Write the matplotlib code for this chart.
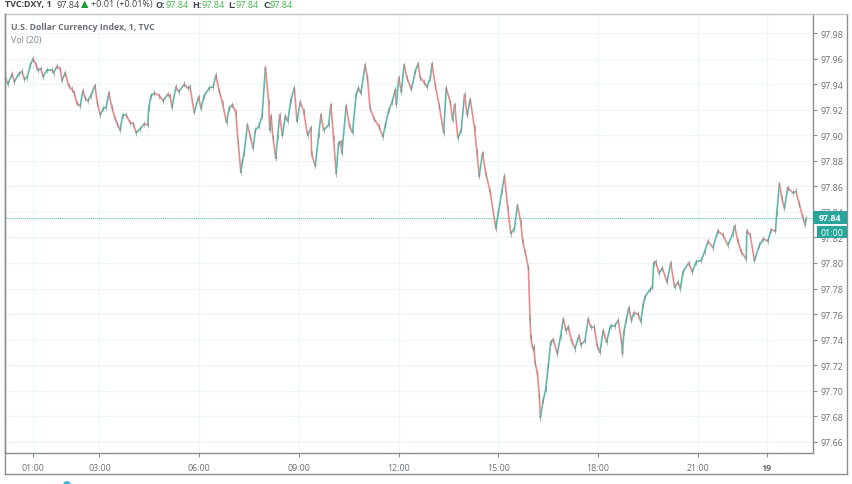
import matplotlib
matplotlib.use("Agg")
import matplotlib.pyplot as plt
import numpy as np
from matplotlib.collections import LineCollection
from matplotlib.lines import Line2D
from matplotlib.patches import Rectangle, Ellipse, Polygon

plt.rcParams['font.family'] = ['Open Sans', 'DejaVu Sans']

# Price path (session hours on the axis, index value)
hours = [0.16, 0.24, 0.37, 0.44, 0.57, 0.67, 0.74, 0.82, 0.92, 1.00, 1.10, 1.14, 1.24, 1.30, 1.42, 1.57, 1.62, 1.72, 1.82, 1.87,
         1.97, 2.07, 2.17, 2.24, 2.32, 2.42, 2.50, 2.57, 2.65, 2.74, 2.86, 2.94, 3.02, 3.12, 3.20, 3.28, 3.37, 3.47, 3.54, 3.62,
         3.70, 3.80, 3.92, 4.02, 4.10, 4.22, 4.35, 4.45, 4.48, 4.55, 4.65, 4.80, 4.92, 5.05, 5.12, 5.18, 5.30, 5.38, 5.55, 5.65,
         5.72, 5.85, 5.98, 6.05, 6.15, 6.30, 6.42, 6.50, 6.60, 6.70, 6.82, 6.90, 7.00, 7.10, 7.17, 7.25, 7.30, 7.35, 7.45, 7.54,
         7.62, 7.69, 7.79, 7.89, 7.99, 8.09, 8.12, 8.16, 8.22, 8.30, 8.36, 8.42, 8.50, 8.59, 8.66, 8.76, 8.86, 8.94, 9.04, 9.14,
         9.26, 9.36, 9.38, 9.49, 9.59, 9.66, 9.74, 9.89, 9.96, 10.04, 10.12, 10.19, 10.26, 10.29, 10.42, 10.52, 10.61, 10.72, 10.79, 10.86,
         10.99, 11.06, 11.14, 11.26, 11.40, 11.52, 11.60, 11.70, 11.80, 11.90, 11.93, 12.00, 12.08, 12.16, 12.25, 12.38, 12.50, 12.58, 12.65, 12.75,
         12.85, 12.95, 13.00, 13.10, 13.22, 13.35, 13.43, 13.55, 13.62, 13.68, 13.78, 13.88, 13.98, 14.06, 14.15, 14.28, 14.35, 14.42, 14.52, 14.62,
         14.75, 14.92, 15.00, 15.10, 15.18, 15.28, 15.37, 15.48, 15.57, 15.67, 15.73, 15.80, 15.90, 15.95, 15.97, 16.03, 16.07, 16.10, 16.17, 16.23,
         16.26, 16.35, 16.42, 16.50, 16.57, 16.65, 16.77, 16.87, 16.95, 17.03, 17.10, 17.20, 17.30, 17.42, 17.48, 17.60, 17.70, 17.77, 17.88, 17.97,
         18.05, 18.15, 18.25, 18.37, 18.50, 18.60, 18.70, 18.73, 18.77, 18.85, 18.92, 19.00, 19.07, 19.20, 19.28, 19.35, 19.40, 19.55, 19.63, 19.67,
         19.73, 19.83, 19.93, 20.07, 20.18, 20.30, 20.40, 20.47, 20.55, 20.72, 20.83, 20.95, 21.10, 21.20, 21.30, 21.45, 21.60, 21.75, 21.90, 22.05,
         22.10, 22.20, 22.30, 22.45, 22.47, 22.57, 22.70, 22.85, 22.97, 23.10, 23.20, 23.33, 23.37, 23.45, 23.52, 23.60, 23.70, 23.85, 23.95, 24.05,
         24.15, 24.22, 24.25]
prices = [97.947, 97.940, 97.948, 97.942, 97.948, 97.950, 97.944, 97.945, 97.955, 97.960, 97.955, 97.951, 97.952, 97.946, 97.951, 97.951, 97.949, 97.954, 97.952, 97.943,
          97.949, 97.939, 97.936, 97.933, 97.925, 97.923, 97.935, 97.929, 97.927, 97.931, 97.939, 97.925, 97.916, 97.921, 97.922, 97.933, 97.922, 97.913, 97.909, 97.904,
          97.916, 97.916, 97.910, 97.909, 97.902, 97.905, 97.909, 97.908, 97.921, 97.931, 97.933, 97.931, 97.927, 97.932, 97.931, 97.922, 97.938, 97.934, 97.940, 97.937,
          97.938, 97.918, 97.930, 97.921, 97.931, 97.937, 97.938, 97.947, 97.935, 97.925, 97.910, 97.921, 97.924, 97.918, 97.895, 97.871, 97.880, 97.886, 97.908, 97.899,
          97.890, 97.904, 97.907, 97.915, 97.953, 97.926, 97.904, 97.915, 97.898, 97.882, 97.899, 97.916, 97.900, 97.915, 97.911, 97.928, 97.937, 97.911, 97.926, 97.919,
          97.900, 97.906, 97.885, 97.876, 97.900, 97.916, 97.904, 97.908, 97.924, 97.898, 97.870, 97.894, 97.895, 97.886, 97.923, 97.907, 97.902, 97.932, 97.937, 97.933,
          97.955, 97.945, 97.921, 97.913, 97.907, 97.899, 97.908, 97.920, 97.926, 97.936, 97.924, 97.945, 97.934, 97.955, 97.945, 97.936, 97.950, 97.956, 97.945, 97.942,
          97.938, 97.945, 97.956, 97.939, 97.923, 97.902, 97.937, 97.926, 97.912, 97.924, 97.898, 97.904, 97.932, 97.916, 97.928, 97.906, 97.887, 97.868, 97.886, 97.870,
          97.856, 97.827, 97.840, 97.856, 97.868, 97.843, 97.823, 97.827, 97.845, 97.832, 97.817, 97.809, 97.796, 97.756, 97.742, 97.733, 97.734, 97.722, 97.714, 97.696,
          97.679, 97.693, 97.701, 97.720, 97.738, 97.740, 97.729, 97.743, 97.756, 97.747, 97.750, 97.739, 97.733, 97.743, 97.736, 97.739, 97.756, 97.750, 97.750, 97.735,
          97.730, 97.747, 97.738, 97.751, 97.751, 97.755, 97.739, 97.729, 97.746, 97.756, 97.765, 97.755, 97.761, 97.760, 97.754, 97.767, 97.773, 97.779, 97.781, 97.800,
          97.801, 97.792, 97.796, 97.785, 97.800, 97.781, 97.785, 97.780, 97.793, 97.800, 97.793, 97.801, 97.802, 97.809, 97.817, 97.812, 97.825, 97.822, 97.814, 97.823,
          97.829, 97.817, 97.809, 97.803, 97.825, 97.822, 97.802, 97.814, 97.819, 97.817, 97.826, 97.825, 97.839, 97.862, 97.851, 97.843, 97.859, 97.855, 97.856, 97.846,
          97.836, 97.830, 97.835]

price_ticks = [97.66, 97.68, 97.70, 97.72, 97.74, 97.76, 97.78, 97.80, 97.82, 97.84, 97.86, 97.88, 97.90, 97.92, 97.94, 97.96, 97.98]
time_ticks = [1, 3, 6, 9, 12, 15, 18, 21, 23.07]
time_labels = ["01:00", "03:00", "06:00", "09:00", "12:00", "15:00", "18:00", "21:00", "19"]
last_price = 97.835

W, H = 852, 485
UP = "#62b8a8"
DOWN = "#e98b8b"
TEAL = "#26a69a"
GRID = "#eff6fa"
BORDER = "#8a8d93"
TXT = "#6b6f76"


# pixel helpers for the things outside the axes
def fx(x):
    return x / W


def fy(y):
    return 1 - y / H


fig = plt.figure(figsize=(W / 100, H / 100), dpi=100)
ax = fig.add_axes([fx(5), fy(454), 808 / W, 439 / H])

ax.set_xlim(0.158, 24.46)
ax.set_ylim(97.6512, 97.995)

ax.grid(True, color=GRID, lw=1.0)
ax.set_axisbelow(True)

# last price line
ax.axhline(last_price, color=TEAL, lw=0.7, ls=(0, (1, 1)), alpha=0.8)

# candles drawn as up/down coloured pieces of the path
pts = np.column_stack([hours, prices])
segs = np.stack([pts[:-1], pts[1:]], axis=1)
cols = [UP if b >= a else DOWN for a, b in zip(prices[:-1], prices[1:])]
ax.add_collection(LineCollection(segs, colors=cols, linewidths=1.2, capstyle="round"))
# gray stubble of the wicks
ax.plot(hours, prices, ls="none", marker="|", ms=4, mew=0.8, color="#7c8686", alpha=0.55)

ax.yaxis.tick_right()
ax.set_yticks(price_ticks)
ax.set_yticklabels([f"{p:.2f}" for p in price_ticks])
ax.set_xticks(time_ticks)
ax.set_xticklabels(time_labels)
ax.tick_params(axis="y", length=3, width=0.8, color=BORDER, labelcolor=TXT, labelsize=6.4, pad=2.5)
ax.tick_params(axis="x", length=3, width=0.8, color=BORDER, labelcolor=TXT, labelsize=6.4, pad=4)
ax.get_xticklabels()[-1].set_fontweight("bold")

for s in ax.spines.values():
    s.set_color(BORDER)
    s.set_linewidth(1.0)
ax.spines["top"].set_color("#c4c6ca")

# outer frame around the axis strips
fig.add_artist(Line2D([fx(5), fx(5)], [fy(15), fy(475)], color=BORDER, lw=1.0))
fig.add_artist(Line2D([fx(5), fx(847)], [fy(475), fy(475)], color=BORDER, lw=1.0))
fig.add_artist(Line2D([fx(847), fx(847)], [fy(15), fy(475)], color=BORDER, lw=1.0))
fig.add_artist(Line2D([fx(813), fx(847)], [fy(15), fy(15)], color="#c4c6ca", lw=1.0))

# price and countdown boxes
fig.add_artist(Rectangle((fx(813), fy(225)), 34 / W, 13 / H, color=TEAL, lw=0, zorder=5))
fig.add_artist(Rectangle((fx(817), fy(239)), 30 / W, 12.5 / H, color=TEAL, lw=0, zorder=5))
fig.text(fx(830), fy(219), "97.84", color="white", fontsize=6.4, fontweight="bold", ha="center", va="center", zorder=6)
fig.text(fx(832), fy(233), "01:00", color="white", fontsize=6.4, ha="center", va="center", zorder=6)

# header line
DARK = "#3f4247"
GREEN = "#3cb84a"
header = [(5, "TVC:DXY, 1", DARK, "bold"), (56, "97.84", DARK, "normal"), (91, "+0.01 (+0.01%)", DARK, "normal"),
          (155, "O:", DARK, "bold"), (166, "97.84", GREEN, "normal"),
          (192, "H:", DARK, "bold"), (202, "97.84", GREEN, "normal"),
          (228, "L:", DARK, "bold"), (235, "97.84", GREEN, "normal"),
          (263, "C:", DARK, "bold"), (270, "97.84", GREEN, "normal")]
for x, s, c, w in header:
    fig.text(fx(x), fy(5), s, color=c, fontsize=6.5, fontweight=w, ha="left", va="center")
fig.add_artist(Polygon([[fx(81), fy(9)], [fx(88.5), fy(9)], [fx(84.7), fy(1.5)]], color="#1f9e3a", lw=0))

fig.text(fx(11), fy(27.5), "U.S. Dollar Currency Index, 1, TVC", color="#6d7179", fontsize=6.3, fontweight="bold", ha="left", va="center")
fig.text(fx(11), fy(40), "Vol (20)", color="#85888e", fontsize=6.4, ha="left", va="center")

# little blue blob cut by the bottom edge
fig.add_artist(Ellipse((fx(67), fy(486)), 8 / W, 8 / H, color="#4db4e6", lw=0))

fig.savefig("out.png", dpi=100)
